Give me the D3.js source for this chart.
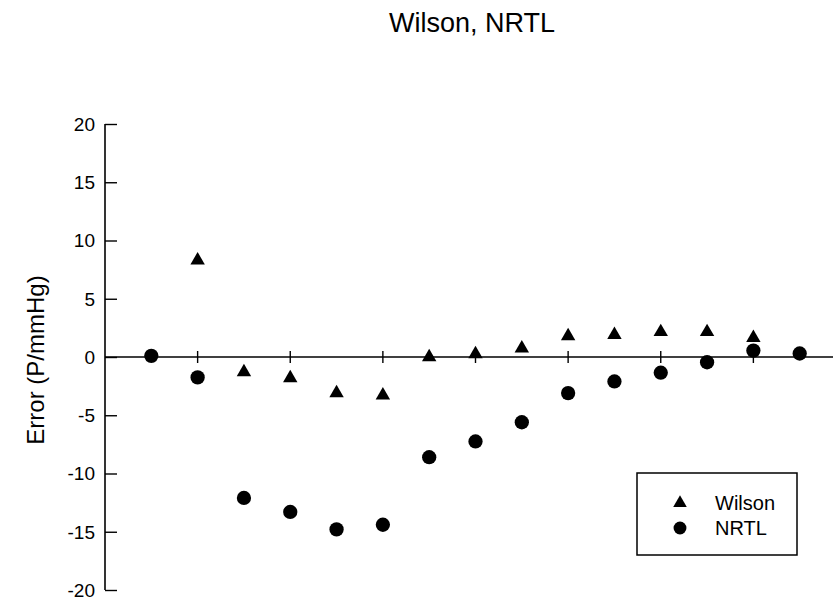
<!DOCTYPE html>
<html>
<head>
<meta charset="utf-8">
<script src="https://cdn.jsdelivr.net/npm/d3@7"></script>
<style>
  body { margin: 0; background: #fff; }
  text { font-family: "Liberation Sans", Arial, sans-serif; fill: #000; }
</style>
</head>
<body>
<div id="chart"></div>
<script>
// mole fraction of each measured point
const X_VALUES = [0.05, 0.10, 0.15, 0.20, 0.25, 0.30, 0.35, 0.40, 0.45, 0.50, 0.55, 0.60, 0.65, 0.70, 0.75];
// Wilson has no point at the first composition
const WILSON_X = X_VALUES.slice(1, 14);
const WILSON = [8.3, -1.3, -1.8, -3.1, -3.3, 0.0, 0.25, 0.75, 1.8, 1.9, 2.15, 2.15, 1.65];
const NRTL = [0.1, -1.75, -12.1, -13.3, -14.8, -14.4, -8.6, -7.25, -5.6, -3.1, -2.1, -1.35, -0.45, 0.55, 0.3];
const Y_TICKS = [-20, -15, -10, -5, 0, 5, 10, 15, 20];
const X_TICKS = [0.1, 0.2, 0.3, 0.4, 0.5, 0.6, 0.7, 0.8];

const WIDTH = 833;
const HEIGHT = 600;
const LEFT = 105;
const RIGHT = 846;
const TOP = 124;
const BOTTOM = 590;

const x = d3.scaleLinear().domain([0, 0.8]).range([LEFT, RIGHT]);
const y = d3.scaleLinear().domain([-20, 20]).range([BOTTOM, TOP]);

const svg = d3.select("#chart").append("svg")
    .attr("width", WIDTH)
    .attr("height", HEIGHT);

svg.append("text")
    .attr("x", 472)
    .attr("y", 32)
    .attr("text-anchor", "middle")
    .style("font-size", "27px")
    .text("Wilson, NRTL");

// left axis, ticks pointing inward
const leftAxis = svg.append("g")
    .attr("transform", `translate(${LEFT},0)`)
    .call(d3.axisRight(y).tickValues(Y_TICKS).tickSize(12).tickFormat(""));
leftAxis.select(".domain").attr("d", `M0,${TOP}V${BOTTOM}`).attr("stroke-width", 1.6);
leftAxis.selectAll(".tick line").attr("stroke-width", 1.4);

svg.append("g").selectAll("text")
  .data(Y_TICKS)
  .join("text")
    .attr("x", LEFT - 10)
    .attr("y", d => y(d))
    .attr("dy", "0.36em")
    .attr("text-anchor", "end")
    .style("font-size", "19px")
    .text(d => d);

// right axis sits just past the window edge
const rightAxis = svg.append("g")
    .attr("transform", `translate(${RIGHT},0)`)
    .call(d3.axisLeft(y).tickValues(Y_TICKS).tickSize(12).tickFormat(""));
rightAxis.select(".domain").attr("d", `M0,${TOP}V${BOTTOM}`);

// zero line with crossing ticks
svg.append("line")
    .attr("x1", LEFT)
    .attr("x2", RIGHT)
    .attr("y1", y(0))
    .attr("y2", y(0))
    .attr("stroke", "#000")
    .attr("stroke-width", 1.6);

svg.append("g").selectAll("line")
  .data(X_TICKS)
  .join("line")
    .attr("x1", d => x(d))
    .attr("x2", d => x(d))
    .attr("y1", y(0) - 6)
    .attr("y2", y(0) + 6)
    .attr("stroke", "#000")
    .attr("stroke-width", 1.4);

svg.append("text")
    .attr("transform", `translate(44,${y(0) + 3}) rotate(-90)`)
    .attr("text-anchor", "middle")
    .style("font-size", "24px")
    .text("Error (P/mmHg)");

const triangle = d3.symbol().type(d3.symbolTriangle).size(90);
const circle = d3.symbol().type(d3.symbolCircle).size(160);

svg.append("g").selectAll("path")
  .data(WILSON)
  .join("path")
    .attr("d", triangle)
    .attr("transform", (d, i) => `translate(${x(WILSON_X[i])},${y(d)})`)
    .attr("fill", "#000");

svg.append("g").selectAll("path")
  .data(NRTL)
  .join("path")
    .attr("d", circle)
    .attr("transform", (d, i) => `translate(${x(X_VALUES[i])},${y(d)})`)
    .attr("fill", "#000");

// legend
const legend = svg.append("g").attr("transform", "translate(637,473)");
legend.append("rect")
    .attr("width", 160)
    .attr("height", 82)
    .attr("fill", "#fff")
    .attr("stroke", "#000")
    .attr("stroke-width", 1.5);

const items = [
  { label: "Wilson", shape: triangle },
  { label: "NRTL", shape: circle }
];

const item = legend.selectAll(".item")
  .data(items)
  .join("g")
    .attr("class", "item")
    .attr("transform", (d, i) => `translate(0,${30 + i * 25})`);

item.append("path")
    .attr("d", d => d.shape.size(d.label === "NRTL" ? 130 : 80)())
    .attr("transform", "translate(43,0)")
    .attr("fill", "#000");

item.append("text")
    .attr("x", 78)
    .attr("dy", "0.36em")
    .style("font-size", "20px")
    .text(d => d.label);
</script>
</body>
</html>
